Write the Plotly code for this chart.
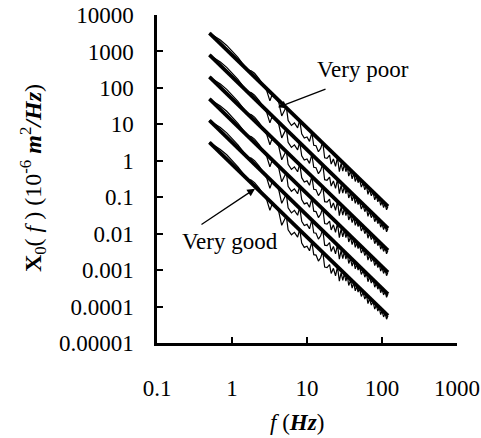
import plotly.graph_objects as go

# ---- data ----
# fitted PSD lines (one per track grade): values at f = 0.5 Hz and f = 120 Hz
FIT_F = [0.5, 120]
FIT_START = [3200, 800, 200, 50, 12.8, 3.2]
FIT_END = [0.056, 0.014, 0.0035, 0.00087, 0.00022, 0.000056]

# measured spectrum of the top ("very poor") curve
FREQ = [0.5, 0.6, 0.7, 0.85, 1.0, 1.2, 1.4, 1.6, 1.8, 2.0, 2.3, 2.6, 2.9, 3.2, 3.4,
        3.8, 4.2, 4.6, 5.0, 5.3, 5.6, 6.2, 6.8, 7.5, 8.0, 8.5, 9.2, 10, 10.8, 11.6,
        12.3, 13.2, 14.2, 15.2, 16.2, 17.2, 18.5, 20, 21, 22.5, 24, 25.5, 27, 28.5,
        30, 31.5, 33, 34.5, 36, 38, 40, 42, 44, 46, 48, 50, 53, 56, 59, 62, 65, 68,
        72, 76, 80, 84, 88, 92, 96, 100, 105, 110, 115, 120]
MEASURED_TOP = [3200, 2550, 2050, 1460, 1050, 685, 450, 312, 296, 252, 178, 118, 85,
                44, 62, 55, 40, 17, 25, 30.5, 12.8, 9.3, 10.9, 8.0, 13.1, 5.5, 4.2,
                4.5, 3.4, 5.95, 2.65, 2.58, 1.77, 2.18, 3.27, 1.21, 1.17, 1.42, 0.81,
                1.12, 0.70, 1.23, 0.50, 0.85, 0.52, 0.806, 0.50, 0.70, 0.38, 0.52,
                0.32, 0.454, 0.27, 0.36, 0.25, 0.32, 0.19, 0.245, 0.16, 0.208,
                0.12, 0.165, 0.11, 0.1385, 0.085, 0.11, 0.075, 0.0945, 0.060,
                0.076, 0.052, 0.0661, 0.045, 0.0556]
# shift of each grade's measured curve relative to the top one
GRADE_FACTOR = [1, 0.25, 0.0625, 0.0156, 0.004, 0.001]

X_TICKS = [0.1, 1, 10, 100, 1000]
X_TICKTEXT = ["0.1", "1", "10", "100", "1000"]
Y_TICKS = [1e-5, 1e-4, 1e-3, 1e-2, 1e-1, 1, 10, 100, 1000, 10000]
Y_TICKTEXT = ["0.00001", "0.0001", "0.001", "0.01", "0.1", "1", "10", "100", "1000", "10000"]

FONT = "Liberation Serif"

fig = go.Figure()
for k in range(len(GRADE_FACTOR)):
    meas = [v * GRADE_FACTOR[k] for v in MEASURED_TOP]
    fig.add_trace(go.Scatter(x=FREQ, y=meas, mode="lines",
                             line=dict(color="black", width=1.2), showlegend=False,
                             hoverinfo="skip"))
for k in range(len(FIT_START)):
    fig.add_trace(go.Scatter(x=FIT_F, y=[FIT_START[k], FIT_END[k]], mode="lines",
                             line=dict(color="black", width=3.8), showlegend=False))

axis_common = dict(type="log", showgrid=False, zeroline=False, showline=True,
                   linecolor="black", linewidth=2.5, ticks="inside", ticklen=6,
                   tickwidth=2, tickcolor="black", mirror=False, automargin=False,
                   tickfont=dict(family=FONT, size=23, color="black"))
fig.update_xaxes(range=[-1, 3], tickvals=X_TICKS, ticktext=X_TICKTEXT,
                 ticklabelstandoff=23, **axis_common)
fig.update_yaxes(range=[-5, 4], tickvals=Y_TICKS, ticktext=Y_TICKTEXT,
                 ticklabelstandoff=16, **axis_common)

txt = dict(family=FONT, size=23, color="black")
ann = [
    dict(text="Very poor", x=1.747, y=2.50, xref="x", yref="y", showarrow=False,
         xanchor="center", yanchor="middle", font=txt),
    dict(text="", x=0.613, y=1.466, ax=1.267, ay=1.984, xref="x", yref="y",
         axref="x", ayref="y", showarrow=True, arrowhead=2, arrowsize=1.2,
         arrowwidth=1.3, arrowcolor="black"),
    dict(text="Very good", x=-0.027, y=-2.213, xref="x", yref="y", showarrow=False,
         xanchor="center", yanchor="middle", font=txt),
    dict(text="", x=0.307, y=-0.768, ax=-0.427, ay=-1.777, xref="x", yref="y",
         axref="x", ayref="y", showarrow=True, arrowhead=2, arrowsize=1.2,
         arrowwidth=1.3, arrowcolor="black"),
    dict(text="<i>f</i> (<b><i>Hz</i></b>)", x=0.467, y=-0.241, xref="paper",
         yref="paper", showarrow=False, xanchor="center", yanchor="middle", font=txt),
    dict(text="<b>X</b><sub>0</sub>( <i>f</i> ) (10<sup>-6</sup> <b><i>m</i></b><sup>2</sup><b><i>/Hz</i></b>)",
         x=-0.413, y=0.503, xref="paper", yref="paper", textangle=-90,
         xanchor="center", yanchor="middle", showarrow=False,
         font=dict(family=FONT, size=24, color="black")),
]
fig.update_layout(width=481, height=438, margin=dict(l=157, r=24, t=15, b=95),
                  plot_bgcolor="white", paper_bgcolor="white", annotations=ann,
                  showlegend=False)
fig.write_html("out.html", config={"displayModeBar": False},
               post_script="document.body.style.margin='0';document.body.style.overflow='hidden';")
